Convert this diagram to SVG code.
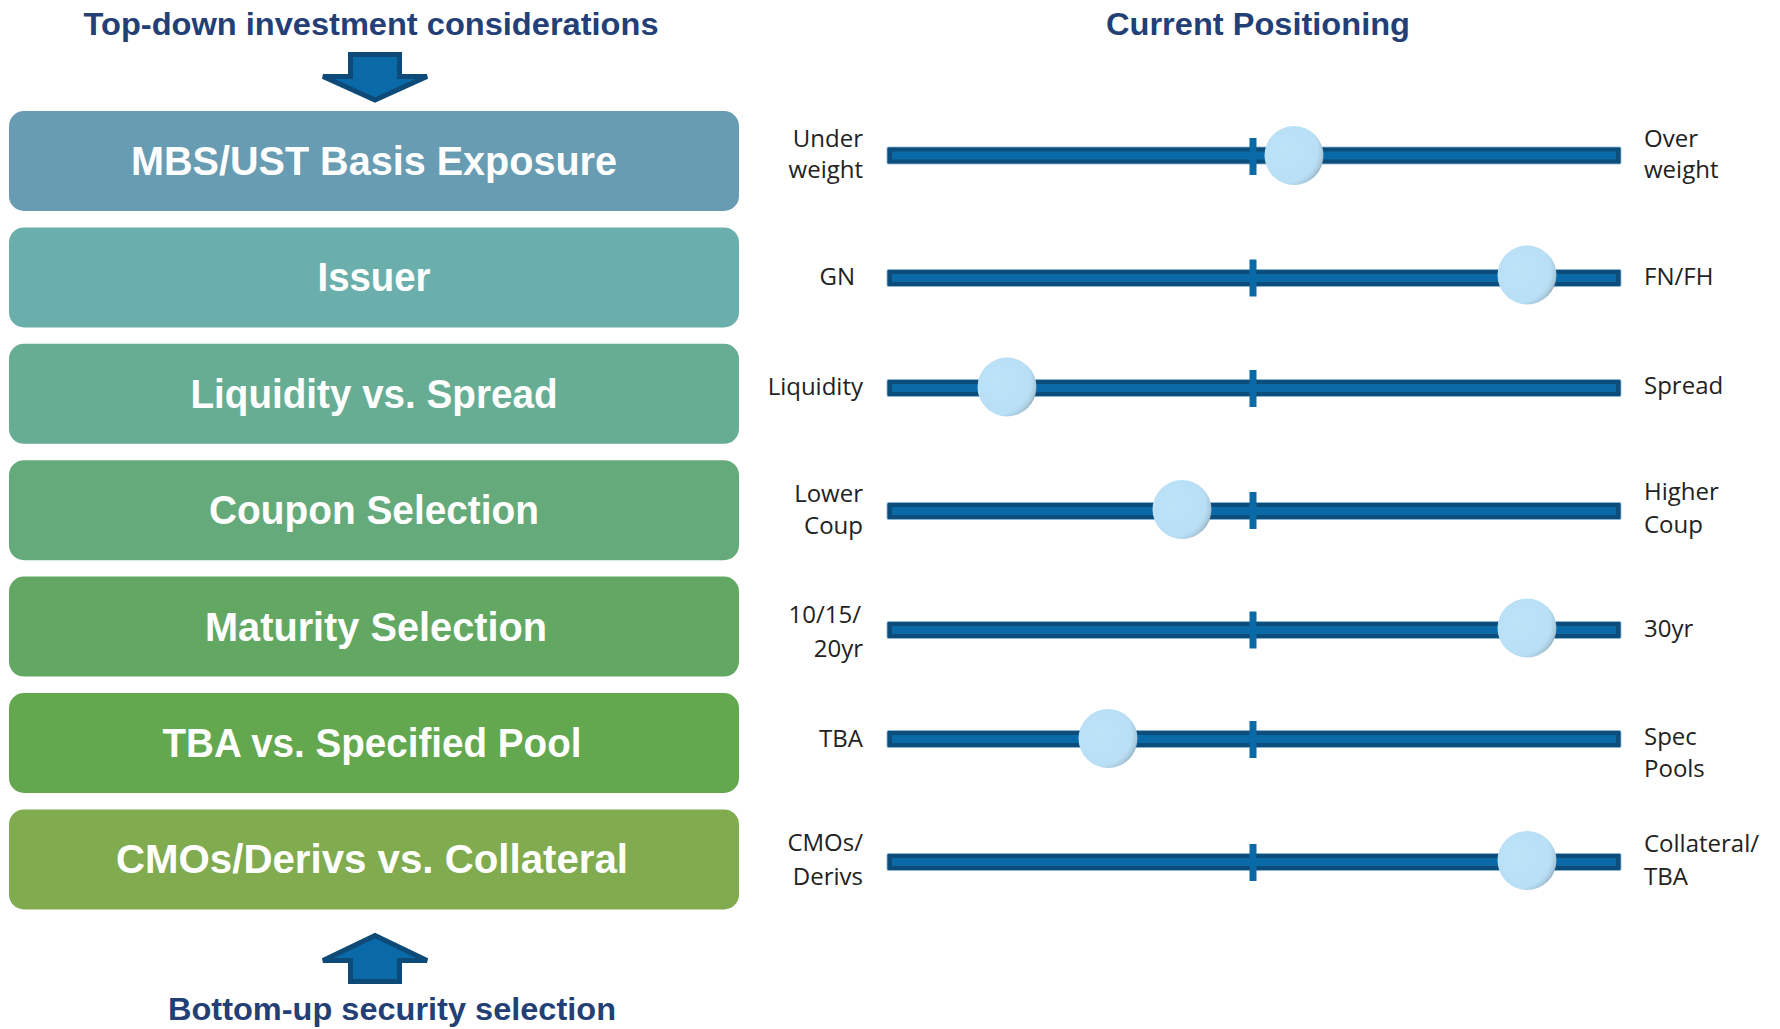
<svg xmlns="http://www.w3.org/2000/svg" width="1780" height="1029" viewBox="0 0 1780 1029">
<style>
.head{font-family:"Liberation Sans",Arial,sans-serif;font-weight:bold;font-size:32px;fill:#233f76;text-anchor:middle}
.box-t{font-family:"Liberation Sans",Arial,sans-serif;font-weight:bold;font-size:40px;fill:#ffffff;text-anchor:middle}
.lbl{font-family:"Open Sans","Liberation Sans",sans-serif;font-size:24px;fill:#222222}
.l{text-anchor:end}
.r{text-anchor:start}
.track{fill:#0d4d7b;stroke:#8db8d6;stroke-width:0.8}
.stripe{fill:#0a6aa8}
.tick{fill:#0a6aa8}
.knob{fill:url(#knobG)}
.arrow{fill:#0a6aa8;stroke:#0e4a78;stroke-width:5;stroke-linejoin:miter}
</style>
<defs>
<radialGradient id="knobG" cx="0.36" cy="0.42" r="0.68">
<stop offset="0" stop-color="#bde3f9"/>
<stop offset="0.8" stop-color="#b8dff5"/>
<stop offset="0.92" stop-color="#a9c9dc"/>
<stop offset="1" stop-color="#7f98a8"/>
</radialGradient>
</defs>
<rect width="1780" height="1029" fill="#ffffff"/>

<text class="head" x="371" y="35" textLength="575" lengthAdjust="spacingAndGlyphs">Top-down investment considerations</text>
<text class="head" x="1258" y="35" textLength="304" lengthAdjust="spacingAndGlyphs">Current Positioning</text>
<text class="head" x="392" y="1020" textLength="448" lengthAdjust="spacingAndGlyphs">Bottom-up security selection</text>

<g id="connectors">
<polygon class="arrow" points="350.5,54.5 399.5,54.5 399.5,76.5 427,76.5 375,100 323,76.5 350.5,76.5"/>
<polygon class="arrow" points="375,935.5 427,960.5 399.5,960.5 399.5,981.5 350.5,981.5 350.5,960.5 323,960.5"/>
</g>

<g id="box-mbs"><rect x="9" y="111" width="730" height="100" rx="15" fill="#679cb3"/><text class="box-t" x="374" y="175" textLength="486" lengthAdjust="spacingAndGlyphs">MBS/UST Basis Exposure</text></g>
<g id="box-issuer"><rect x="9" y="227.4" width="730" height="100" rx="15" fill="#6aafac"/><text class="box-t" x="374" y="291.4" textLength="113" lengthAdjust="spacingAndGlyphs">Issuer</text></g>
<g id="box-liquidity"><rect x="9" y="343.8" width="730" height="100" rx="15" fill="#66ad94"/><text class="box-t" x="374" y="407.8" textLength="367" lengthAdjust="spacingAndGlyphs">Liquidity vs. Spread</text></g>
<g id="box-coupon"><rect x="9" y="460.2" width="730" height="100" rx="15" fill="#64aa7a"/><text class="box-t" x="374" y="524.2" textLength="330" lengthAdjust="spacingAndGlyphs">Coupon Selection</text></g>
<g id="box-maturity"><rect x="9" y="576.6" width="730" height="100" rx="15" fill="#62a862"/><text class="box-t" x="376" y="640.6" textLength="342" lengthAdjust="spacingAndGlyphs">Maturity Selection</text></g>
<g id="box-tba"><rect x="9" y="693" width="730" height="100" rx="15" fill="#63a84e"/><text class="box-t" x="372" y="757" textLength="419" lengthAdjust="spacingAndGlyphs">TBA vs. Specified Pool</text></g>
<g id="box-cmo"><rect x="9" y="809.4" width="730" height="100" rx="15" fill="#80ab4f"/><text class="box-t" x="372" y="873.4" textLength="512" lengthAdjust="spacingAndGlyphs">CMOs/Derivs vs. Collateral</text></g>

<g id="slider-1">
<rect class="track" x="887" y="147" width="734" height="17" rx="1.5"/><rect class="stripe" x="892" y="151.5" width="724" height="8"/>
<rect class="tick" x="1249.5" y="138" width="7" height="37"/>
<circle class="knob" cx="1294" cy="155.5" r="29.5"/>
<text class="lbl l" x="863" y="147">Under</text><text class="lbl l" x="863" y="178">weight</text>
<text class="lbl r" x="1644" y="147">Over</text><text class="lbl r" x="1644" y="178">weight</text>
</g>
<g id="slider-2">
<rect class="track" x="887" y="269.5" width="734" height="17" rx="1.5"/><rect class="stripe" x="892" y="274" width="724" height="8"/>
<rect class="tick" x="1249.5" y="259.5" width="7" height="37"/>
<circle class="knob" cx="1527" cy="275" r="29.5"/>
<text class="lbl l" x="855" y="285">GN</text>
<text class="lbl r" x="1644" y="285">FN/FH</text>
</g>
<g id="slider-3">
<rect class="track" x="887" y="379.5" width="734" height="17" rx="1.5"/><rect class="stripe" x="892" y="384" width="724" height="8"/>
<rect class="tick" x="1249.5" y="370" width="7" height="37"/>
<circle class="knob" cx="1007" cy="387" r="29.5"/>
<text class="lbl l" x="863" y="395">Liquidity</text>
<text class="lbl r" x="1644" y="394">Spread</text>
</g>
<g id="slider-4">
<rect class="track" x="887" y="502.5" width="734" height="17" rx="1.5"/><rect class="stripe" x="892" y="507" width="724" height="8"/>
<rect class="tick" x="1249.5" y="492" width="7" height="37"/>
<circle class="knob" cx="1182" cy="509.5" r="29.5"/>
<text class="lbl l" x="863" y="502">Lower</text><text class="lbl l" x="863" y="534">Coup</text>
<text class="lbl r" x="1644" y="500">Higher</text><text class="lbl r" x="1644" y="533">Coup</text>
</g>
<g id="slider-5">
<rect class="track" x="887" y="621.5" width="734" height="17" rx="1.5"/><rect class="stripe" x="892" y="626" width="724" height="8"/>
<rect class="tick" x="1249.5" y="611.5" width="7" height="37"/>
<circle class="knob" cx="1527" cy="628" r="29.5"/>
<text class="lbl l" x="861" y="623">10/15/</text><text class="lbl l" x="863" y="657">20yr</text>
<text class="lbl r" x="1644" y="637">30yr</text>
</g>
<g id="slider-6">
<rect class="track" x="887" y="730.5" width="734" height="17" rx="1.5"/><rect class="stripe" x="892" y="735" width="724" height="8"/>
<rect class="tick" x="1249.5" y="721" width="7" height="37"/>
<circle class="knob" cx="1108" cy="738.5" r="29.5"/>
<text class="lbl l" x="863" y="747">TBA</text>
<text class="lbl r" x="1644" y="745">Spec</text><text class="lbl r" x="1644" y="777">Pools</text>
</g>
<g id="slider-7">
<rect class="track" x="887" y="853.5" width="734" height="17" rx="1.5"/><rect class="stripe" x="892" y="858" width="724" height="8"/>
<rect class="tick" x="1249.5" y="844" width="7" height="37"/>
<circle class="knob" cx="1527" cy="860.5" r="29.5"/>
<text class="lbl l" x="863" y="851">CMOs/</text><text class="lbl l" x="863" y="885">Derivs</text>
<text class="lbl r" x="1644" y="852">Collateral/</text><text class="lbl r" x="1644" y="885">TBA</text>
</g>
</svg>
